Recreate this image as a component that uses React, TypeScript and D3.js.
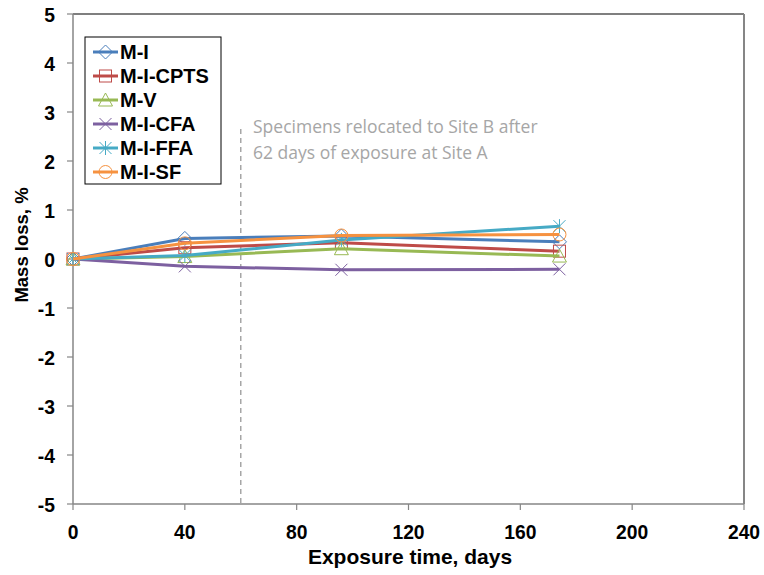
import React from "react";
import * as d3 from "d3";

const days = [0, 40, 96, 174];
const seriesNames = ["M-I", "M-I-CPTS", "M-V", "M-I-CFA", "M-I-FFA", "M-I-SF"];
const mI = [0, 0.42, 0.47, 0.35];
const mICPTS = [0, 0.23, 0.33, 0.16];
const mV = [0, 0.05, 0.21, 0.06];
const mICFA = [0, -0.15, -0.22, -0.21];
const mIFFA = [0, 0.07, 0.39, 0.67];
const mISF = [0, 0.32, 0.48, 0.5];
const xTicks = [0, 40, 80, 120, 160, 200, 240];
const yTicks = [-5, -4, -3, -2, -1, 0, 1, 2, 3, 4, 5];
const relocationDay = 60;
const noteLines = ["Specimens relocated to Site B after", "62 days of exposure at Site A"];

const colors = ["#4A7EBB", "#BE4B48", "#98B954", "#7D60A0", "#46AAC5", "#F69240"];
const markers = ["diamond", "square", "triangle", "x", "star", "circle"];

function Marker({ type, x, y, color }: { type: string; x: number; y: number; color: string }) {
  const r = 7;
  const common = { fill: "none", stroke: color, strokeWidth: 1 };
  if (type === "diamond")
    return <path d={`M${x},${y - r}L${x + r},${y}L${x},${y + r}L${x - r},${y}Z`} {...common} />;
  if (type === "square") return <rect x={x - 6} y={y - 6} width={12} height={12} {...common} />;
  if (type === "triangle")
    return <path d={`M${x},${y - 7}L${x + 7},${y + 6}L${x - 7},${y + 6}Z`} {...common} />;
  if (type === "x")
    return <path d={`M${x - 6},${y - 6}L${x + 6},${y + 6}M${x - 6},${y + 6}L${x + 6},${y - 6}`} {...common} />;
  if (type === "star")
    return (
      <path
        d={`M${x - 6},${y - 6}L${x + 6},${y + 6}M${x - 6},${y + 6}L${x + 6},${y - 6}M${x},${y - 7}L${x},${y + 7}`}
        {...common}
      />
    );
  return <circle cx={x} cy={y} r={6.5} {...common} />;
}

const font = "Arial, 'Liberation Sans', sans-serif";

function BoldText({
  x,
  y,
  size,
  sx = 1,
  anchor = "start",
  children,
}: {
  x: number;
  y: number;
  size: number;
  sx?: number;
  anchor?: string;
  children: React.ReactNode;
}) {
  return (
    <text
      transform={`translate(${x},${y}) scale(${sx},1)`}
      textAnchor={anchor}
      fontFamily={font}
      fontWeight="bold"
      fontSize={size}
      fill="#000"
    >
      {children}
    </text>
  );
}

export default function App() {
  const W = 764,
    H = 575;
  const x = d3.scaleLinear().domain([0, 240]).range([73, 744]);
  const y = d3.scaleLinear().domain([-5, 5]).range([504, 14]);
  const data = [mI, mICPTS, mV, mICFA, mIFFA, mISF];
  const line = d3
    .line<number>()
    .x((_, i) => x(days[i]))
    .y((d) => y(d));
  const axisColor = "#868686";
  return (
    <svg width={W} height={H} style={{ position: "absolute", left: 0, top: 0, background: "#fff" }}>
      <line x1={73} x2={744} y1={14} y2={14} stroke="#000" strokeWidth={1.2} />
      <line x1={744} x2={744} y1={14} y2={504} stroke={axisColor} strokeWidth={2} />
      <line x1={73} x2={73} y1={14} y2={504} stroke={axisColor} strokeWidth={1.5} />
      <line x1={73} x2={744} y1={504} y2={504} stroke={axisColor} strokeWidth={1.5} />
      {yTicks.map((t) => (
        <g key={"y" + t}>
          <line x1={67} x2={73} y1={y(t)} y2={y(t)} stroke={axisColor} strokeWidth={1.2} />
          <BoldText x={55} y={y(t) + 7.5} size={21} sx={0.92} anchor="end">
            {t}
          </BoldText>
        </g>
      ))}
      {xTicks.map((t) => (
        <g key={"x" + t}>
          <line x1={x(t)} x2={x(t)} y1={504} y2={510} stroke={axisColor} strokeWidth={1.2} />
          <BoldText x={x(t)} y={539} size={21} sx={0.92} anchor="middle">
            {t}
          </BoldText>
        </g>
      ))}
      <BoldText x={410} y={564} size={21} sx={1} anchor="middle">
        Exposure time, days
      </BoldText>
      <text
        transform={`translate(28,245) rotate(-90)`}
        textAnchor="middle"
        fontFamily={font}
        fontWeight="bold"
        fontSize={18.5}
      >
        Mass loss, %
      </text>
      <line
        x1={x(relocationDay)}
        x2={x(relocationDay)}
        y1={129}
        y2={504}
        stroke="#A6A6A6"
        strokeWidth={1.5}
        strokeDasharray="5,4"
      />
      {noteLines.map((s, i) => (
        <text key={s} x={253} y={133 + i * 26} fontFamily="'Open Sans', sans-serif" fontSize={17.5} fill="#A6A6A6">
          {s}
        </text>
      ))}
      {data.map((vals, si) => (
        <g key={seriesNames[si]}>
          <path d={line(vals) || ""} fill="none" stroke={colors[si]} strokeWidth={3} />
          {vals.map((v, i) => (
            <Marker key={i} type={markers[si]} x={x(days[i])} y={y(v)} color={colors[si]} />
          ))}
        </g>
      ))}
      <rect x={85} y={37} width={136} height={147} fill="#fff" stroke="#000" strokeWidth={1} />
      {seriesNames.map((n, i) => {
        const ly = 52 + i * 24;
        return (
          <g key={n}>
            <line x1={93} x2={118} y1={ly} y2={ly} stroke={colors[i]} strokeWidth={3} />
            <Marker type={markers[i]} x={105.5} y={ly} color={colors[i]} />
            <BoldText x={120} y={ly + 7} size={20} sx={1}>
              {n}
            </BoldText>
          </g>
        );
      })}
    </svg>
  );
}
